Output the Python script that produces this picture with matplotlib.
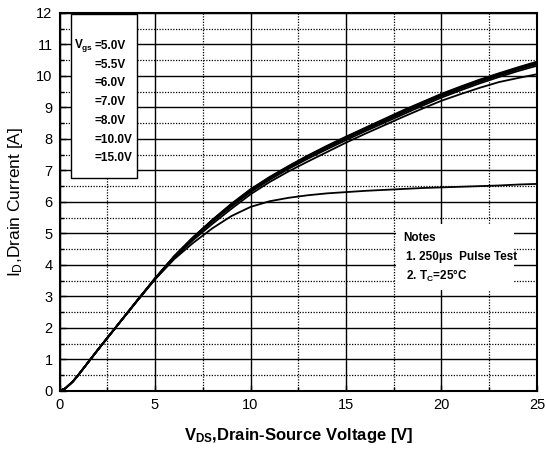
import matplotlib
matplotlib.use("Agg")
import matplotlib.pyplot as plt
from matplotlib.patches import Rectangle
from matplotlib.ticker import MultipleLocator

plt.rcParams['font.family'] = ['Liberation Sans', 'DejaVu Sans']
plt.rcParams['mathtext.fontset'] = 'custom'
plt.rcParams['mathtext.rm'] = 'Liberation Sans'
plt.rcParams['mathtext.bf'] = 'Liberation Sans:bold'
plt.rcParams['mathtext.it'] = 'Liberation Sans'

# Drain-source voltage grid [V]
vds = [0, 0.3, 0.7, 1, 2, 3, 4, 5, 6, 7, 8, 9, 10, 11, 12, 13, 14, 15,
       16, 17, 18, 19, 20, 21, 22, 23, 24, 25]

# Drain current [A] for each gate voltage
id_15v = [0, 0.08, 0.30, 0.52, 1.30, 2.06, 2.82, 3.57, 4.27, 4.88, 5.43, 5.94, 6.40, 6.79, 7.14,
          7.47, 7.78, 8.07, 8.35, 8.63, 8.91, 9.17, 9.43, 9.66, 9.88, 10.08, 10.27, 10.45]
id_10v = [0, 0.08, 0.30, 0.52, 1.30, 2.06, 2.82, 3.57, 4.27, 4.88, 5.42, 5.93, 6.39, 6.78, 7.13,
          7.46, 7.76, 8.05, 8.33, 8.61, 8.88, 9.15, 9.41, 9.64, 9.86, 10.06, 10.25, 10.43]
id_8v = [0, 0.08, 0.30, 0.52, 1.30, 2.06, 2.82, 3.57, 4.27, 4.87, 5.41, 5.91, 6.37, 6.76, 7.11,
         7.44, 7.74, 8.03, 8.31, 8.58, 8.85, 9.12, 9.38, 9.61, 9.83, 10.03, 10.22, 10.40]
id_7v = [0, 0.08, 0.30, 0.52, 1.30, 2.06, 2.82, 3.57, 4.26, 4.86, 5.40, 5.89, 6.35, 6.74, 7.09,
         7.42, 7.72, 8.01, 8.29, 8.56, 8.83, 9.10, 9.36, 9.59, 9.81, 10.01, 10.20, 10.37]
id_6v = [0, 0.08, 0.30, 0.52, 1.30, 2.06, 2.82, 3.56, 4.25, 4.84, 5.37, 5.85, 6.31, 6.70, 7.05,
         7.37, 7.67, 7.96, 8.24, 8.51, 8.78, 9.05, 9.31, 9.54, 9.76, 9.96, 10.15, 10.32]
id_5p5v = [0, 0.08, 0.30, 0.52, 1.30, 2.06, 2.81, 3.55, 4.22, 4.79, 5.30, 5.78, 6.24, 6.63, 6.97,
           7.28, 7.58, 7.88, 8.16, 8.43, 8.70, 8.96, 9.21, 9.42, 9.62, 9.80, 9.93, 10.05]
id_5v = [0, 0.08, 0.30, 0.52, 1.30, 2.06, 2.81, 3.54, 4.18, 4.70, 5.16, 5.55, 5.84, 6.02, 6.13,
         6.21, 6.27, 6.31, 6.35, 6.38, 6.41, 6.44, 6.46, 6.48, 6.50, 6.52, 6.55, 6.57]

curves = [id_5v, id_5p5v, id_6v, id_7v, id_8v, id_10v, id_15v]
legend_labels = ["=5.0V", "=5.5V", "=6.0V", "=7.0V", "=8.0V", "=10.0V", "=15.0V"]

xticks = [0, 5, 10, 15, 20, 25]
yticks = list(range(0, 13))

fig = plt.figure(figsize=(5.46, 4.57), dpi=100)
ax = fig.add_axes([0.109, 0.1445, 0.8745, 0.8275])

for c in curves:
    ax.plot(vds, c, color='black', lw=1.3, zorder=3, solid_joinstyle='round')

ax.set_xlim(0, 25)
ax.set_ylim(0, 12)
ax.set_xticks(xticks)
ax.set_yticks(yticks)
ax.xaxis.set_minor_locator(MultipleLocator(2.5))
ax.yaxis.set_minor_locator(MultipleLocator(0.5))
ax.grid(which='major', color='black', lw=1.0, ls='-', zorder=1)
ax.grid(which='minor', color='black', lw=0.9, ls=(0, (1, 1.2)), zorder=1)
ax.set_axisbelow(True)
ax.tick_params(which='both', direction='in', labelsize=10.5, length=4, width=1, pad=5)
ax.tick_params(which='minor', length=3)
for s in ax.spines.values():
    s.set_linewidth(1.5)

ax.set_xlabel(r"$\mathbf{V_{DS}}$,Drain-Source Voltage [V]", fontsize=12,
              fontweight='bold', labelpad=10)
ax.set_ylabel(r"$\mathrm{I_D}$,Drain Current [A]", fontsize=12.5, labelpad=8)

# Legend box
ax.add_patch(Rectangle((0.6, 6.75), 3.45, 5.2, facecolor='white', edgecolor='black',
                       lw=1.0, zorder=4))
x_eq = 1.8
ax.text(x_eq - 0.02, 10.95, r"$\mathbf{V_{gs}}$", fontsize=8.5, fontweight='bold', va='center',
        ha='right', zorder=5)
for i, lab in enumerate(legend_labels):
    ax.text(x_eq + 0.03, 10.95 - i * 0.595, lab, fontsize=8.5, fontweight='bold', va='center',
            ha='left', zorder=5)

# Notes box
ax.add_patch(Rectangle((17.6, 3.2), 6.2, 2.1, facecolor='white', edgecolor='none', zorder=4))
ax.text(18.0, 4.85, "Notes", fontsize=8.5, fontweight='bold', va='center', zorder=5)
ax.text(18.15, 4.25, "1. 250μs  Pulse Test", fontsize=8.5, fontweight='bold', va='center', zorder=5)
ax.text(18.15, 3.66, r"2. $\mathbf{T_C}$=25°C", fontsize=8.5, fontweight='bold', va='center', zorder=5)

fig.savefig("out.png", dpi=100)
